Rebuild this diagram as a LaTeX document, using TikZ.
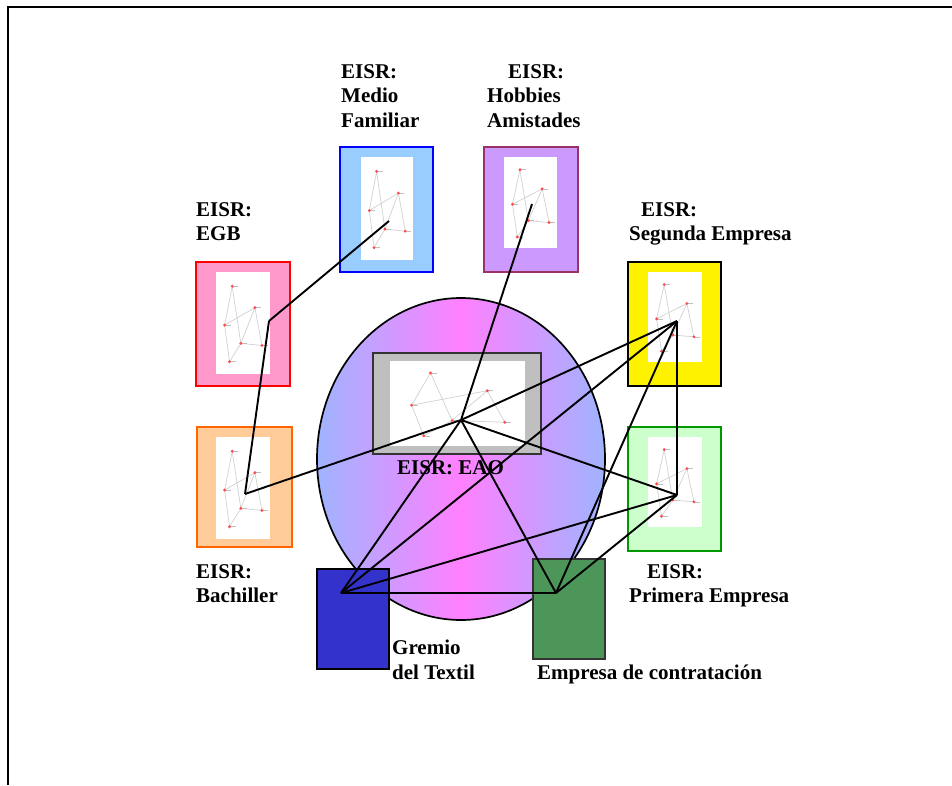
\documentclass[tikz,border=0pt]{standalone}
\usepackage{fontspec}
\setmainfont{Liberation Serif}
\definecolor{rosa}{HTML}{FF99CC}
\definecolor{celeste}{HTML}{99CCFF}
\definecolor{lila}{HTML}{CC99FF}
\definecolor{granate}{HTML}{993366}
\definecolor{melocoton}{HTML}{FFCC99}
\definecolor{naranja}{HTML}{FF6600}
\definecolor{verdeclaro}{HTML}{CCFFCC}
\definecolor{verde}{HTML}{009900}
\definecolor{azulgremio}{HTML}{3333CC}
\definecolor{verdeempresa}{HTML}{4D965A}
\definecolor{periwinkle}{HTML}{9FB4FF}
\definecolor{fucsia}{HTML}{FF80FF}
% small graph drawn inside each white panel: #1,#2 top left corner, #3 width, #4 height
\newcommand{\minigrafo}[4]{%
  \fill[white] (#1,#2) rectangle ++(#3,#4);
  \begin{scope}[shift={(#1pt,-#2pt)}, x=#3pt, y=-#4pt]
    \coordinate (ma) at (0.30,0.14);
    \coordinate (mb) at (0.72,0.35);
    \coordinate (mc) at (0.16,0.52);
    \coordinate (md) at (0.46,0.70);
    \coordinate (me) at (0.85,0.72);
    \coordinate (mf) at (0.25,0.88);
    \draw[black!18, line width=0.7pt] (ma) -- (mc) -- (mb) -- (me) -- (md) -- (ma)
      (mb) -- (md) -- (mf) -- (mc);
    \foreach \p in {ma,mb,mc,md,me,mf} {
      \draw[black!25, line width=0.6pt] (\p) -- ++(6pt,0pt);
      \fill[red!70] (\p) circle[radius=1.6pt];
    }
  \end{scope}}
\begin{document}
\begin{tikzpicture}[x=1pt, y=-1pt,
    caja/.style={draw, line width=1.7pt, inner sep=0pt},
    panel/.style={caja, minimum width=94pt, minimum height=124pt},
    rotulo/.style={anchor=north west, inner sep=0pt, align=left,
      font=\fontsize{21}{24.5}\selectfont\bfseries},
    enlace/.style={line width=1.9pt}]
  \useasboundingbox (0,0) rectangle (952,785);
  \draw[line width=2pt] (8,785) -- (8,7) -- (952,7);

  % central circle
  \draw[line width=1.7pt, left color=periwinkle, right color=periwinkle, middle color=fucsia]
    (461,459) ellipse [x radius=144, y radius=161];

  % panels
  \node[panel, fill=rosa, draw=red] (egb) at (243,324) {};
  \node[panel, fill=celeste, draw=blue, minimum width=93pt, minimum height=125pt] (medio) at (386.5,209.5) {};
  \node[panel, fill=lila, draw=granate, minimum height=125pt] (hobbies) at (531,209.5) {};
  \node[panel, fill=yellow, draw=black, minimum width=93pt] (segunda) at (674.5,324) {};
  \node[panel, fill=melocoton, draw=naranja, minimum width=95pt, minimum height=120pt] (bach) at (244.5,487) {};
  \node[panel, fill=verdeclaro, draw=verde, minimum width=93pt] (primera) at (674.5,489) {};
  \node[caja, fill=black!25, draw=black!80, minimum width=168pt, minimum height=101pt] (eao) at (457,403.5) {};
  \node[caja, fill=azulgremio, draw=black, minimum width=72pt, minimum height=100pt] (gremio) at (353,619) {};
  \node[caja, fill=verdeempresa, draw=black!80, minimum width=72pt, minimum height=100pt] (empresa) at (569,609) {};

  \minigrafo{216}{272}{54}{102}
  \minigrafo{361}{157}{52}{103}
  \minigrafo{504}{157}{53}{91}
  \minigrafo{648}{272}{54}{90}
  \minigrafo{216}{437}{54}{102}
  \minigrafo{648}{437}{54}{90}
  \minigrafo{390}{361}{135}{85}

  % labels
  \node[rotulo] (lmedio) at (341,64) {EISR:\\Medio\\Familiar};
  \node[rotulo] (lhobbies) at (487,64) {\hspace*{21pt}EISR:\\Hobbies\\Amistades};
  \node[rotulo] (legb) at (196,202) {EISR:\\EGB};
  \node[rotulo] (lsegunda) at (629,202) {\hspace*{12pt}EISR:\\Segunda Empresa};
  \node[rotulo] (leao) at (397,460) {EISR: EAO};
  \node[rotulo] (lbach) at (196,564) {EISR:\\Bachiller};
  \node[rotulo] (lprimera) at (629,564) {\hspace*{18pt}EISR:\\Primera Empresa};
  \node[rotulo] (lgremio) at (392,640) {Gremio\\del Textil};
  \node[rotulo] (lempresa) at (537,665) {Empresa de contratación};

  % hubs
  \coordinate (hegb) at (269,321);
  \coordinate (hmedio) at (389,221);
  \coordinate (hhobbies) at (532,204);
  \coordinate (hsegunda) at (677,321);
  \coordinate (hbach) at (245,494);
  \coordinate (hprimera) at (677,495);
  \coordinate (heao) at (461,420);
  \coordinate (hgremio) at (341,593);
  \coordinate (hempresa) at (556,593);

  \begin{scope}[enlace]
    \draw (hmedio) to (hegb);
    \draw (hegb) to (hbach);
    \draw (hhobbies) to (heao);
    \draw (hbach) to (heao);
    \draw (heao) to (hsegunda);
    \draw (heao) to (hprimera);
    \draw (heao) to (hgremio);
    \draw (heao) to (hempresa);
    \draw (hgremio) to (hempresa);
    \draw (hgremio) to (hsegunda);
    \draw (hgremio) to (hprimera);
    \draw (hempresa) to (hsegunda);
    \draw (hempresa) to (hprimera);
    \draw (hsegunda) to (hprimera);
  \end{scope}
\end{tikzpicture}
\end{document}
